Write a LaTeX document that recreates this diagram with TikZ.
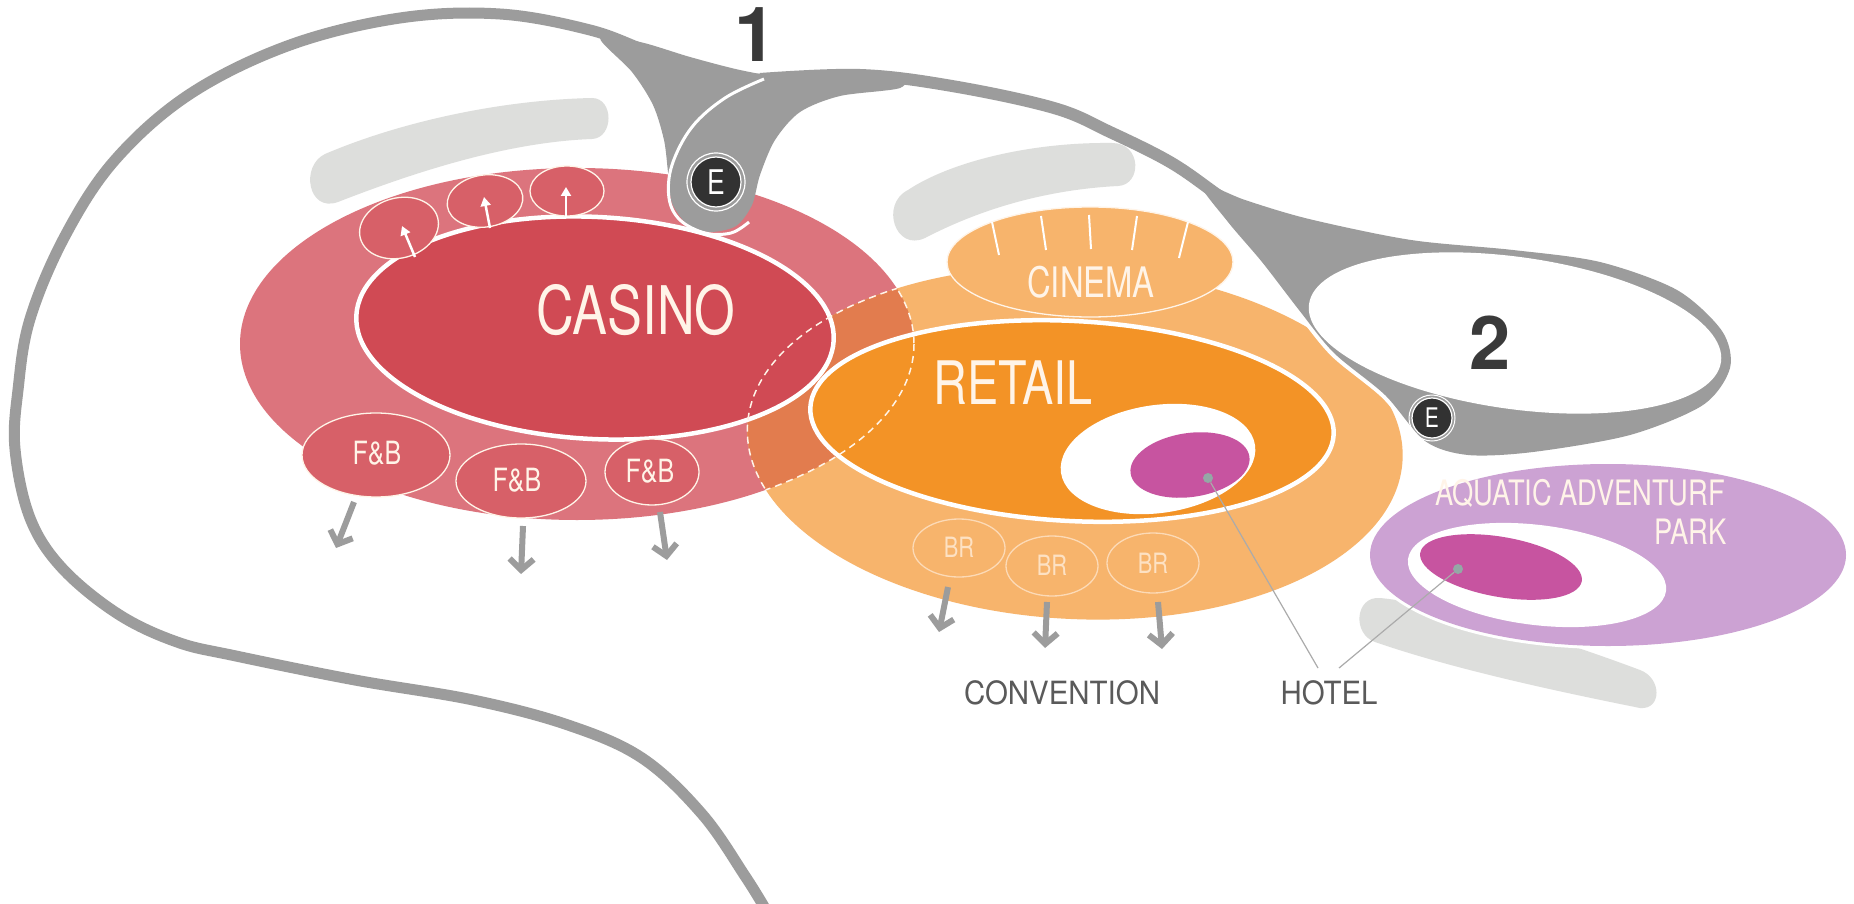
\documentclass[tikz,border=0pt]{standalone}
\usepackage{fontspec}
\setmainfont{TeX Gyre Heros}
\newfontfamily\zonefont{TeX Gyre Heros}[FakeStretch=0.78]
\newfontfamily\notefont{TeX Gyre Heros}[FakeStretch=0.92]
\usetikzlibrary{arrows.meta}

\definecolor{roadgrey}{RGB}{156,156,156}
\definecolor{bargrey}{RGB}{221,222,220}
\definecolor{casinoring}{RGB}{220,116,125}
\definecolor{casinocore}{RGB}{208,74,84}
\definecolor{fnbred}{RGB}{215,96,104}
\definecolor{retailring}{RGB}{247,180,108}
\definecolor{retailcore}{RGB}{243,147,38}
\definecolor{mixorange}{RGB}{226,124,78}
\definecolor{hotelpink}{RGB}{199,84,160}
\definecolor{aqualilac}{RGB}{204,162,211}
\definecolor{edark}{RGB}{50,50,50}
\definecolor{numgrey}{RGB}{58,58,58}
\definecolor{notegrey}{RGB}{90,90,90}
\definecolor{dotgrey}{RGB}{148,168,166}
\definecolor{creamtext}{RGB}{255,244,232}

\newcommand{\fsz}[1]{\fontsize{#1}{#1}\selectfont}

\tikzset{
  zonetext/.style={inner sep=0, text=creamtext, font=\zonefont\fsz{#1}},
  notetext/.style={inner sep=0, text=notegrey, font=\notefont\fsz{32}},
  subzone/.style={fill=fnbred, draw=creamtext, line width=1.3},
  outarrow/.style={draw=roadgrey, line width=6, -{Straight Barb[length=11pt,width=24pt]}},
  uparrow/.style={draw=white, line width=2.5, -{Triangle[length=9pt,width=10pt]}},
  estop/.style={circle, fill=edark, draw=white, line width=1.2, inner sep=0, text=white},
  leader/.style={draw=roadgrey!85, line width=1.2},
  seam/.style={draw=creamtext, line width=1.5, dash pattern=on 7pt off 5pt},
}

\begin{document}
\begin{tikzpicture}[x=1pt,y=-1pt]
\useasboundingbox (0,0) rectangle (1854,904);
\fill[white] (0,0) rectangle (1854,904);

\fill[bargrey] (325,154) .. controls (400,122) and (500,100) .. (592,98)
  .. controls (614,98) and (614,138) .. (592,139)
  .. controls (510,142) and (420,170) .. (338,202)
  .. controls (308,213) and (300,166) .. (325,154) -- cycle;
\fill[bargrey] (908,190) .. controls (950,162) and (1030,142) .. (1112,143)
  .. controls (1142,143) and (1142,185) .. (1118,186)
  .. controls (1040,190) and (975,212) .. (925,238)
  .. controls (895,252) and (880,204) .. (908,190) -- cycle;
\fill[bargrey] (1380,598) .. controls (1450,605) and (1560,640) .. (1640,670)
  .. controls (1662,678) and (1662,710) .. (1640,708)
  .. controls (1550,690) and (1450,668) .. (1375,642)
  .. controls (1352,634) and (1355,596) .. (1380,598) -- cycle;

\fill[casinoring] (577,344) ellipse [x radius=337, y radius=176];
\fill[retailring, rotate around={-3:(1075,443)}] (1075,443) ellipse [x radius=328, y radius=176];
\begin{scope}
\clip (577,344) ellipse [x radius=337, y radius=176];
\fill[mixorange, rotate around={-3:(1075,443)}] (1075,443) ellipse [x radius=328, y radius=176];
\end{scope}

\fill[retailring, draw=creamtext, line width=1.3] (1090,262) ellipse [x radius=143, y radius=55];
\foreach \xa/\ya/\xb/\yb in {992/222/999/255, 1041/216/1046/250, 1089/215/1091/249, 1137/216/1132/250, 1188/222/1179/258}
  \draw[white, line width=2] (\xa,\ya) -- (\xb,\yb);

\fill[casinocore, rotate around={-3:(595,328)}] (595,328) ellipse [x radius=239, y radius=111];
\fill[retailcore, rotate around={-3:(1072,421)}] (1072,421) ellipse [x radius=262, y radius=100];
\draw[white, line width=4.5, rotate around={-3:(595,328)}] (595,328) ellipse [x radius=239, y radius=111];
\draw[white, line width=4.5, rotate around={-3:(1072,421)}] (1072,421) ellipse [x radius=262, y radius=100];

\begin{scope}
\clip (577,344) ellipse [x radius=337, y radius=176];
\draw[seam, rotate around={-3:(1075,443)}] (1075,443) ellipse [x radius=328, y radius=176];
\end{scope}
\begin{scope}
\clip[rotate around={-3:(1075,443)}] (1075,443) ellipse [x radius=328, y radius=176];
\draw[seam] (577,344) ellipse [x radius=337, y radius=176];
\end{scope}

\fill[white, rotate around={8:(1158,459)}] (1158,459) ellipse [x radius=98, y radius=54];
\fill[hotelpink, rotate around={8:(1190,465)}] (1190,465) ellipse [x radius=60, y radius=32];

\draw[subzone] (376,455) ellipse [x radius=74, y radius=42];
\draw[subzone] (521,481) ellipse [x radius=65, y radius=37];
\draw[subzone] (652,472) ellipse [x radius=47, y radius=33];
\draw[subzone, rotate around={15:(399,228)}] (399,228) ellipse [x radius=40, y radius=30];
\draw[subzone, rotate around={8:(485,201)}] (485,201) ellipse [x radius=38, y radius=26];
\draw[subzone] (567,191) ellipse [x radius=37, y radius=25];
\draw[uparrow] (415,257) -- (402,226);
\draw[uparrow] (490,228) -- (484,197);
\draw[uparrow] (566,218) -- (566,187);

\draw[draw=creamtext!60!retailring, line width=1.3] (959,548) ellipse [x radius=46, y radius=29];
\draw[draw=creamtext!60!retailring, line width=1.3] (1052,566) ellipse [x radius=46, y radius=30];
\draw[draw=creamtext!60!retailring, line width=1.3] (1153,563) ellipse [x radius=46, y radius=30];

\draw[outarrow] (354,502) -- (336,548);
\draw[outarrow] (523,526) -- (521,574);
\draw[outarrow] (660,512) -- (667,560);
\draw[outarrow] (948,587) -- (939,632);
\draw[outarrow] (1047,602) -- (1045,648);
\draw[outarrow] (1158,602) -- (1162,649);

\path[fill=aqualilac, preaction={draw=white, line width=6}] (1608,555) ellipse [x radius=238, y radius=91];
\fill[white, rotate around={-7:(1537,575)}] (1537,575) ellipse [x radius=130, y radius=50];
\fill[hotelpink, rotate around={-10:(1501,567)}] (1501,567) ellipse [x radius=82, y radius=30];

\draw[roadgrey, line width=11, line cap=round] plot[smooth, tension=0.6] coordinates {
  (766,910) (745,876) (702,814) (642,758) (568,725) (473,700) (355,680) (236,656)
  (177,642) (118,614) (62,568) (30,518) (15,449) (18,390) (30,319) (65,236)
  (115,160) (190,94) (290,45) (400,18) (500,14) (590,30) (650,52) (712,72) (765,80)};
\fill[roadgrey] plot[smooth cycle, tension=0.5] coordinates {
  (600,38) (632,72) (653,105) (664,140) (668,172) (672,203) (688,225) (710,232)
  (736,226) (752,205) (760,175) (775,140) (800,112) (840,96) (900,88) (900,74)
  (840,72) (780,76) (740,70) (690,57) (640,42)};
\path[fill=roadgrey, preaction={draw=white, line width=8}] plot[smooth cycle, tension=0.5] coordinates {
  (1200,183) (1245,200) (1309,219) (1411,240) (1513,250) (1600,262) (1677,290)
  (1722,331) (1730,368) (1703,405) (1630,435) (1533,452) (1468,455) (1425,441)
  (1385,395) (1334,353) (1299,310) (1262,262) (1228,222)};
\draw[roadgrey, line width=12] plot[smooth, tension=0.6] coordinates {
  (760,79) (860,75) (952,86) (1054,108) (1110,132) (1170,162) (1215,193) (1245,215)};
\draw[white, line width=3] plot[smooth, tension=0.6] coordinates {
  (764,79) (725,98) (692,127) (672,165) (669,198) (680,220) (705,233) (731,233) (749,222)};
\fill[white, rotate around={-8:(1515,333)}] (1515,333) ellipse [x radius=208, y radius=76];

\node[estop, minimum size=50, font=\zonefont\fsz{34}] (e1) at (716,182) {E};
\draw[white, line width=1.2] (e1.center) circle [radius=29];
\node[estop, minimum size=40, font=\zonefont\fsz{27}] (e2) at (1432,418) {E};
\draw[white, line width=1] (e2.center) circle [radius=23];

\node[inner sep=0, text=numgrey, font=\bfseries\fsz{76}] (n1) at (756,35) {1};
\node[inner sep=0, text=numgrey, font=\bfseries\fsz{74}] (n2) at (1490,343) {2};

\node[zonetext=67] (casino) at (636,310) {CASINO};
\node[zonetext=60] (retail) at (1013,383) {RETAIL};
\node[zonetext=42] (cinema) at (1091,282) {CINEMA};
\node[zonetext=32] (fnb1) at (377,453) {F\&B};
\node[zonetext=32] (fnb2) at (517,480) {F\&B};
\node[zonetext=32] (fnb3) at (650,471) {F\&B};
\node[zonetext=28, text=creamtext!70!retailring] (br1) at (959,547) {BR};
\node[zonetext=28, text=creamtext!70!retailring] (br2) at (1052,565) {BR};
\node[zonetext=28, text=creamtext!70!retailring] (br3) at (1153,563) {BR};
\node[zonetext=35] (aquatic) at (1580,493) {AQUATIC ADVENTURF};
\node[zonetext=35, anchor=east] (park) at (1727,532) {PARK};

\node[notetext] (convention) at (1062,693) {CONVENTION};
\node[notetext] (hotel) at (1329,693) {HOTEL};

\node[circle, fill=dotgrey, inner sep=0, minimum size=10] (dotA) at (1208,478) {};
\node[circle, fill=dotgrey, inner sep=0, minimum size=10] (dotB) at (1458,569) {};
\coordinate (hotelL) at (1318,668);
\coordinate (hotelR) at (1339,668);
\draw[leader] (dotA) -- (hotelL);
\draw[leader] (dotB) -- (hotelR);
\end{tikzpicture}
\end{document}
